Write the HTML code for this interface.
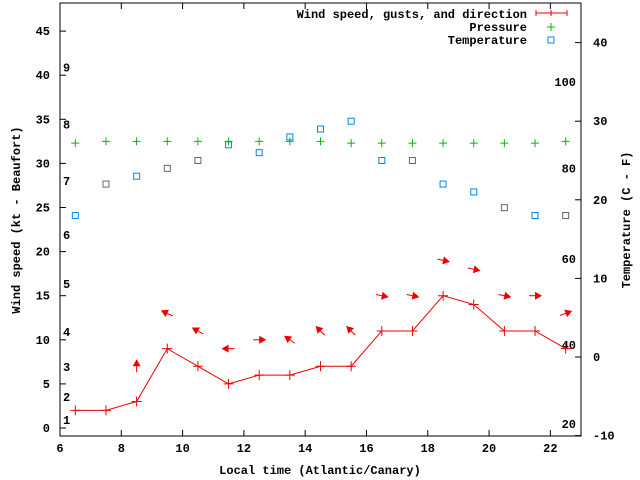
<!DOCTYPE html>
<html><head><meta charset="utf-8"><style>
html,body{margin:0;padding:0;background:#fff}
svg{display:block;font-family:"Liberation Mono","DejaVu Sans Mono",monospace;font-weight:bold;font-size:12px}
</style></head><body>
<svg id="chart" width="640" height="480" viewBox="0 0 640 480" xmlns="http://www.w3.org/2000/svg">
<g id="axes"></g>
<g id="series"></g>
<g>
<text x="527" y="18" text-anchor="end">Wind speed, gusts, and direction</text>
<g stroke="#e00" stroke-width="1"><line x1="536" y1="13" x2="567" y2="13"/><line x1="536" y1="10" x2="536" y2="16"/><line x1="567" y1="10" x2="567" y2="16"/><line x1="551" y1="10" x2="551" y2="16"/></g>
<text x="527" y="31" text-anchor="end">Pressure</text>
<g stroke="#0b0"><line x1="547" y1="27" x2="555" y2="27"/><line x1="551" y1="23" x2="551" y2="31"/></g>
<text x="527" y="44" text-anchor="end">Temperature</text>
<rect x="548" y="37" width="6" height="6" fill="none" stroke="#08e"/>
</g>
</svg>
<script>
const hours=[6.5,7.5,8.5,9.5,10.5,11.5,12.5,13.5,14.5,15.5,16.5,17.5,18.5,19.5,20.5,21.5,22.5];
const windSpeed=[2,2,3,9,7,5,6,6,7,7,11,11,15,14,11,11,9];
const windDir=[null,null,90,155,150,180,0,145,135,135,-12,-12,-12,-12,-12,0,20];
const pressure=[32.3,32.5,32.5,32.5,32.5,32.5,32.5,32.5,32.5,32.3,32.3,32.3,32.3,32.3,32.3,32.3,32.5];
const temperature=[18,22,23,24,25,27,26,28,29,30,25,25,22,21,19,18,18];
const tempGray=[0,1,0,1,1,0,0,0,0,0,0,1,0,0,1,0,1];
const xTicks=[6,8,10,12,14,16,18,20,22];
const yTicks=[0,5,10,15,20,25,30,35,40,45];
const tTicks=[-10,0,10,20,30,40];
const beaufort=[[1,1],[2,2],[3,3],[4,4],[5,5],[6,6],[7,7],[8,8],[9,9]];
const beaufortY=[0.9,3.5,6.9,10.9,16.3,21.9,28,34.4,40.9];
const fahr=[20,40,60,80,100];
const fahrY=[1.5,11.5,22.5,34,45];

const L=60,R=581,T=3,B=436;
const X=v=>L+(v-6)/(23-6)*(R-L);
const Y=v=>428-v*8.82;
const YT=v=>357-v*7.86;
const NS="http://www.w3.org/2000/svg";
function mk(tag,attrs,parent,txt){const e=document.createElementNS(NS,tag);for(const k in attrs)e.setAttribute(k,attrs[k]);if(txt!==undefined)e.textContent=txt;parent.appendChild(e);return e;}
const ax=document.getElementById('axes'),sr=document.getElementById('series');
let e;
e=mk('rect',{x:L,y:T,width:R-L,height:B-T,fill:'none',stroke:'#000'},ax);


xTicks.forEach(v=>{const x=X(v);
 mk('line',{x1:x,y1:B,x2:x,y2:B-6,stroke:'#000'},ax);mk('line',{x1:x,y1:T,x2:x,y2:T+6,stroke:'#000'},ax);
 e=mk('text',{x:x,y:B+16,'text-anchor':'middle'},ax,String(v));
 
 });
yTicks.forEach(v=>{const y=Y(v);
 mk('line',{x1:L,y1:y,x2:L+6,y2:y,stroke:'#000'},ax);
 e=mk('text',{x:L-10,y:y+4,'text-anchor':'end'},ax,String(v));
 
 });
tTicks.forEach(v=>{const y=YT(v);
 mk('line',{x1:R,y1:y,x2:R-6,y2:y,stroke:'#000'},ax);
 e=mk('text',{x:R+12,y:y+4,'text-anchor':'start'},ax,String(v));
 
 });
beaufort.forEach((b,i)=>{e=mk('text',{x:63,y:Y(beaufortY[i])+4},ax,String(b[0]));
 
 });
fahr.forEach((f,i)=>{e=mk('text',{x:576,y:YT(fahrY[i]-10)+4,'text-anchor':'end'},ax,String(f));
 
 });
e=mk('text',{x:320,y:474,'text-anchor':'middle'},ax,'Local time (Atlantic/Canary)');


e=mk('text',{x:20,y:220,'text-anchor':'middle',transform:'rotate(-90 20 220)'},ax,'Wind speed (kt - Beaufort)');


e=mk('text',{x:630,y:220,'text-anchor':'middle',transform:'rotate(-90 630 220)'},ax,'Temperature (C - F)');


// wind line
e=mk('polyline',{points:hours.map((h,i)=>X(h)+','+Y(windSpeed[i])).join(' '),fill:'none',stroke:'#e00'},sr);


hours.forEach((h,i)=>{const x=X(h),y=Y(windSpeed[i]);
 e=mk('path',{d:`M${x-5},${y}h10M${x},${y-5}v10`,stroke:'#e00'},sr);
 
 
 // pressure
 const py=Y(pressure[i]);
 e=mk('path',{d:`M${x-4},${py}h8M${x},${py-4}v8`,stroke:'#0b0'},sr);
 
 
 // temperature
 const ty=YT(temperature[i]);
 e=mk('rect',{x:x-3,y:ty-3,width:6,height:6,fill:'none',stroke:tempGray[i]?'#666':'#08e'},sr);
 
 
 // direction arrow
 if(windDir[i]!==null){const ay=Y(windSpeed[i]+4),a=windDir[i]*Math.PI/180;
  const dx=Math.cos(a),dy=-Math.sin(a);
  const x1=x-dx*6,y1=ay-dy*6,x2=x+dx*6,y2=ay+dy*6;
  const px=-dy,py2=dx;
  const g=mk('g',{},sr);
  
  
  mk('line',{x1:x1,y1:y1,x2:x2,y2:y2,stroke:'#e00'},g);
  mk('polygon',{points:`${x2+dx*1},${y2+dy*1} ${x2-dx*6+px*4},${y2-dy*6+py2*4} ${x2-dx*6-px*4},${y2-dy*6-py2*4}`,fill:'#e00'},g);}
});
</script>
</body></html>
